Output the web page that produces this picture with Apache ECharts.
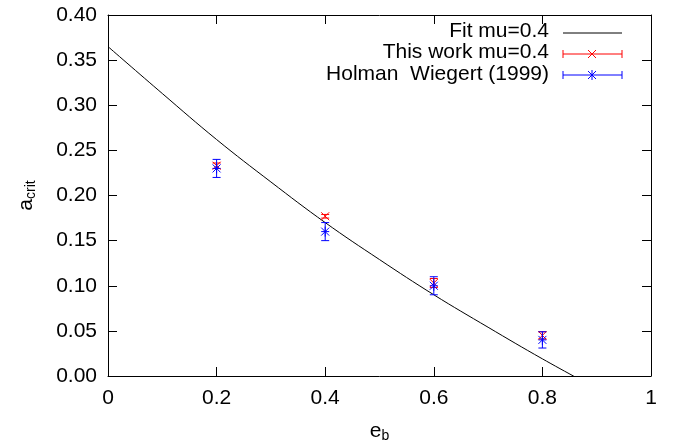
<!DOCTYPE html>
<html><head><meta charset="utf-8">
<script src="https://cdn.jsdelivr.net/npm/echarts@6/dist/echarts.min.js"></script>
<style>html,body{margin:0;padding:0;background:#fff}#c{width:675px;height:445px}</style>
</head><body><div id="c"></div>
<script>
const eb = [0.2, 0.4, 0.6, 0.8];
const thisWork = [0.233, 0.177, 0.103, 0.045];
const thisWorkErr = [0.003, 0.002, 0.005, 0.004];
const holman = [0.230, 0.160, 0.100, 0.040];
const holmanErr = [0.010, 0.010, 0.010, 0.009];
const fitE = [0, 0.1, 0.2, 0.3, 0.4, 0.5, 0.6, 0.7, 0.8, 0.9];
const fitA = [0.365, 0.313, 0.262, 0.215, 0.170, 0.129, 0.090, 0.054, 0.019, -0.014];
const xTicks = ['0', '0.2', '0.4', '0.6', '0.8', '1'];

const FONT = 'Liberation Sans';
const FS = 21;
const chart = echarts.init(document.getElementById('c'));

function errSeries(name, vals, errs, color, star) {
  return {
    name, type: 'custom', z: star ? 4 : 3,
    data: eb.map((x, i) => [x, vals[i], vals[i] - errs[i], vals[i] + errs[i]]),
    renderItem: function (params, api) {
      const p = api.coord([api.value(0), api.value(1)]);
      const lo = api.coord([api.value(0), api.value(2)]);
      const hi = api.coord([api.value(0), api.value(3)]);
      const cw = 4, m = 4;
      const st = { stroke: color, lineWidth: 1 };
      const ch = [
        { type: 'line', shape: { x1: p[0], y1: lo[1], x2: p[0], y2: hi[1] }, style: st },
        { type: 'line', shape: { x1: p[0] - cw, y1: lo[1], x2: p[0] + cw, y2: lo[1] }, style: st },
        { type: 'line', shape: { x1: p[0] - cw, y1: hi[1], x2: p[0] + cw, y2: hi[1] }, style: st },
        { type: 'line', shape: { x1: p[0] - m, y1: p[1] - m, x2: p[0] + m, y2: p[1] + m }, style: st },
        { type: 'line', shape: { x1: p[0] - m, y1: p[1] + m, x2: p[0] + m, y2: p[1] - m }, style: st }
      ];
      if (star) {
        ch.push({ type: 'line', shape: { x1: p[0] - m, y1: p[1], x2: p[0] + m, y2: p[1] }, style: st });
        ch.push({ type: 'line', shape: { x1: p[0], y1: p[1] - m - 1, x2: p[0], y2: p[1] + m + 1 }, style: st });
      }
      return { type: 'group', children: ch };
    }
  };
}

const lx1 = 563, lx2 = 622, lc = 592;
function legendIcon(y, color, kind) {
  const st = { stroke: color, lineWidth: 1 };
  const ch = [{ type: 'line', shape: { x1: lx1, y1: y, x2: lx2, y2: y }, style: st }];
  if (kind > 0) {
    ch.push({ type: 'line', shape: { x1: lx1, y1: y - 4, x2: lx1, y2: y + 4 }, style: st });
    ch.push({ type: 'line', shape: { x1: lx2, y1: y - 4, x2: lx2, y2: y + 4 }, style: st });
    ch.push({ type: 'line', shape: { x1: lc - 4, y1: y - 4, x2: lc + 4, y2: y + 4 }, style: st });
    ch.push({ type: 'line', shape: { x1: lc - 4, y1: y + 4, x2: lc + 4, y2: y - 4 }, style: st });
  }
  if (kind > 1) {
    ch.push({ type: 'line', shape: { x1: lc, y1: y - 5, x2: lc, y2: y + 5 }, style: st });
  }
  return { type: 'group', children: ch };
}

function axisCommon() {
  return {
    axisLine: { show: true, onZero: false, lineStyle: { color: '#000', width: 1 } },
    axisTick: { show: true, inside: true, length: 9, lineStyle: { color: '#000' } },
    splitLine: { show: false }
  };
}

const rich = {
  a: { fontFamily: FONT, fontSize: FS, color: '#000' },
  s: { fontFamily: FONT, fontSize: 14, color: '#000', verticalAlign: 'bottom', padding: [9, 0, 0, 0] }
};

chart.setOption({
  animation: false,
  grid: { left: 108, right: 24, top: 15, bottom: 69, containLabel: false, outerBoundsMode: 'none' },
  xAxis: [
    Object.assign(axisCommon(), {
      type: 'value', min: 0, max: 1, interval: 0.2, position: 'bottom',
      name: '{a|e}{s|b}', nameLocation: 'middle', nameGap: 44,
      nameTextStyle: { rich },
      axisLabel: { fontFamily: FONT, fontSize: FS, color: '#000', margin: 12, formatter: (v) => xTicks[Math.round(v / 0.2)] }
    }),
    Object.assign(axisCommon(), {
      type: 'value', min: 0, max: 1, interval: 0.2, position: 'top', axisLabel: { show: false }
    })
  ],
  yAxis: [
    Object.assign(axisCommon(), {
      type: 'value', min: 0, max: 0.4, interval: 0.05, position: 'left',
      name: '{a|a}{s|crit}', nameLocation: 'middle', nameGap: 70, nameRotate: 90,
      nameTextStyle: { rich },
      axisLabel: { fontFamily: FONT, fontSize: FS, color: '#000', margin: 11, formatter: (v) => v.toFixed(2) }
    }),
    Object.assign(axisCommon(), {
      type: 'value', min: 0, max: 0.4, interval: 0.05, position: 'right', axisLabel: { show: false }
    })
  ],
  series: [
    {
      name: 'Fit mu=0.4', type: 'line', data: fitE.map((e, i) => [e, fitA[i]]),
      smooth: 0.4, showSymbol: false, symbol: 'none', clip: true,
      lineStyle: { color: '#000', width: 1 }, z: 2
    },
    errSeries('This work mu=0.4', thisWork, thisWorkErr, '#ff0000', false),
    errSeries('Holman  Wiegert (1999)', holman, holmanErr, '#0000ff', true)
  ],
  graphic: [
    { type: 'text', right: 126, top: 21, style: { text: 'Fit mu=0.4', font: FS + 'px "' + FONT + '"', fill: '#000' } },
    { type: 'text', right: 126, top: 42, style: { text: 'This work mu=0.4', font: FS + 'px "' + FONT + '"', fill: '#000' } },
    { type: 'text', right: 126, top: 64, style: { text: 'Holman  Wiegert (1999)', font: FS + 'px "' + FONT + '"', fill: '#000' } },
    legendIcon(33, '#000', 0),
    legendIcon(54, '#ff0000', 1),
    legendIcon(75, '#0000ff', 2)
  ]
});
</script></body></html>
